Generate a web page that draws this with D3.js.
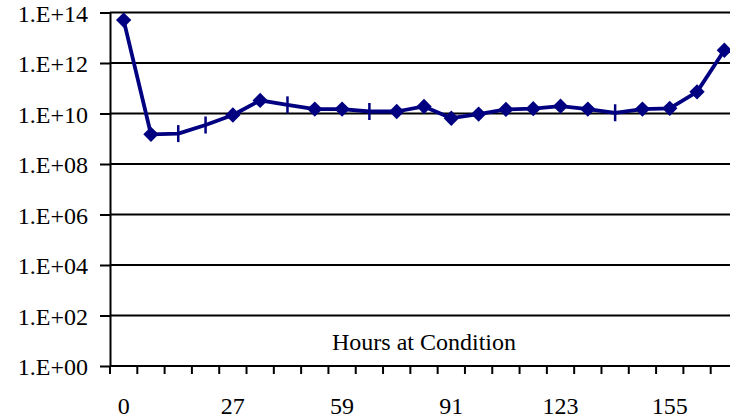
<!DOCTYPE html>
<html>
<head>
<meta charset="utf-8">
<script src="https://cdn.jsdelivr.net/npm/d3@7"></script>
<style>
  html, body { margin: 0; padding: 0; background: #fff; }
  svg { display: block; }
  svg text { font-family: "Liberation Serif", "Times New Roman", "DejaVu Serif", serif !important; fill: #000; }
</style>
</head>
<body>
<svg id="chart" width="730" height="419"></svg>
<script>
// Hours at condition (one category per sample)
const hours = [0, 3, 11, 19, 27, 35, 43, 51, 59, 67, 75, 83, 91, 99, 107, 115, 123, 131, 139, 147, 155, 163, 171];
// Measured value at each sample time
const values = [5.0e13, 1.5e9, 1.6e9, 3.5e9, 8.7e9, 3.3e10, 2.2e10, 1.5e10, 1.5e10, 1.2e10, 1.2e10, 1.9e10,
                6.5e9, 9.5e9, 1.45e10, 1.55e10, 1.95e10, 1.5e10, 1.07e10, 1.5e10, 1.6e10, 7.2e10, 3.2e12];
// Full-marker samples (others shown with a tick only)
const marked = [true, true, false, false, true, true, false, true, true, false, true, true,
                true, true, true, true, true, true, false, true, true, true, true];
// Axis tick values
const yTicks = [1e0, 1e2, 1e4, 1e6, 1e8, 1e10, 1e12, 1e14];
const xLabelHours = [0, 27, 59, 91, 123, 155];
const xTitle = "Hours at Condition";

const FONT = '"Liberation Serif", "Times New Roman", "DejaVu Serif", serif';
const FS = "24px";
const svg = d3.select("#chart");
const plotLeft = 110, plotRight = 738, plotTop = 12.5, plotBottom = 366;

const x = d3.scaleBand().domain(hours).range([plotLeft, plotRight]).padding(0);
const y = d3.scaleLog().domain([1, 1e14]).range([plotBottom, plotTop]);
const cx = h => x(h) + x.bandwidth() / 2;

const fmt = v => "1.E+" + String(Math.round(Math.log10(v))).padStart(2, "0");

// Horizontal gridlines
svg.append("g").selectAll("line").data(yTicks).join("line")
  .attr("x1", plotLeft).attr("x2", plotRight)
  .attr("y1", d => y(d)).attr("y2", d => y(d))
  .attr("stroke", "#000").attr("stroke-width", 2);

// Y axis with tick marks and labels
const yAxis = svg.append("g").attr("transform", `translate(${plotLeft},0)`)
  .call(d3.axisLeft(y).tickValues(yTicks).tickFormat(fmt).tickSize(10).tickSizeOuter(0).tickPadding(12))
  .attr("font-family", FONT).attr("font-size", 24);
yAxis.select(".domain").attr("stroke", "#000").attr("stroke-width", 2);
yAxis.selectAll(".tick line").attr("stroke", "#000").attr("stroke-width", 2);
yAxis.selectAll(".tick text").style("font-family", FONT).style("font-size", FS).attr("dy", "0.37em");

// X axis: ticks sit between categories
const xb = svg.append("g");
xb.append("line").attr("x1", plotLeft).attr("x2", plotRight).attr("y1", plotBottom).attr("y2", plotBottom)
  .attr("stroke", "#000").attr("stroke-width", 2);
const bounds = hours.map(h => x(h)).concat([x.range()[1]]);
xb.selectAll("line.tk").data(bounds).join("line").attr("class", "tk")
  .attr("x1", d => d).attr("x2", d => d).attr("y1", plotBottom).attr("y2", plotBottom + 8)
  .attr("stroke", "#000").attr("stroke-width", 2);
xb.selectAll("text").data(xLabelHours).join("text")
  .attr("x", d => cx(d)).attr("y", 414)
  .attr("text-anchor", "middle")
  .style("font-family", FONT).style("font-size", FS)
  .text(d => d);

// Axis title inside the plot area
svg.append("text").attr("x", (plotLeft + plotRight) / 2).attr("y", 350)
  .attr("text-anchor", "middle")
  .style("font-family", FONT).style("font-size", FS)
  .text(xTitle);

// Series line
const pts = hours.map((h, i) => ({ h, v: values[i], m: marked[i] }));
svg.append("path").datum(pts)
  .attr("fill", "none").attr("stroke", "#000080").attr("stroke-width", 3.8)
  .attr("stroke-linejoin", "round")
  .attr("d", d3.line().x(d => cx(d.h)).y(d => y(d.v)));

// Markers
const diamond = d3.symbol().type(d3.symbolDiamond2).size(150);
svg.append("g").selectAll("path").data(pts.filter(d => d.m)).join("path")
  .attr("transform", d => `translate(${cx(d.h)},${y(d.v)})`)
  .attr("d", diamond).attr("fill", "#000080");
svg.append("g").selectAll("line").data(pts.filter(d => !d.m)).join("line")
  .attr("x1", d => cx(d.h)).attr("x2", d => cx(d.h))
  .attr("y1", d => y(d.v) - 8.5).attr("y2", d => y(d.v) + 8.5)
  .attr("stroke", "#000080").attr("stroke-width", 2.5);
</script>
</body>
</html>
